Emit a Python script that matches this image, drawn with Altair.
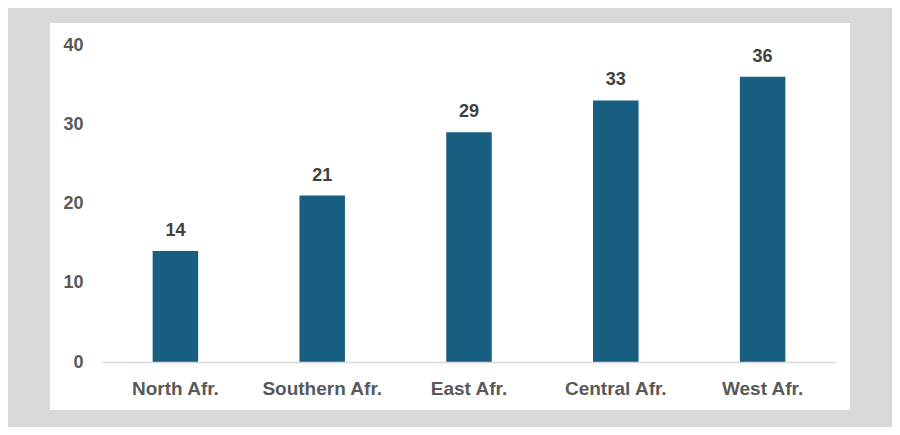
import altair as alt
import pandas as pd

regions = ["North Afr.", "Southern Afr.", "East Afr.", "Central Afr.", "West Afr."]
values = [14, 21, 29, 33, 36]
y_ticks = [0, 10, 20, 30, 40]

df = pd.DataFrame({"region": regions, "value": values})

FONT = "Liberation Sans"

x_enc = alt.X("region:N", sort=regions, title=None,
              scale=alt.Scale(paddingInner=0.69, paddingOuter=0.345),
              axis=alt.Axis(labelAngle=0, ticks=False, tickSize=0, domainColor="#d9d9d9",
                            domainWidth=1.5, labelBaseline="alphabetic", labelPadding=32,
                            labelFont=FONT, labelFontSize=19, labelFontWeight="bold",
                            labelColor="#595959", grid=False, zindex=1))
y_enc = alt.Y("value:Q", title=None,
              scale=alt.Scale(domain=[0, 40], nice=False),
              axis=alt.Axis(values=y_ticks, ticks=False, tickSize=0, domain=False, grid=False,
                            labelPadding=19, labelFont=FONT, labelFontSize=18,
                            labelFontWeight="bold", labelColor="#595959", zindex=1))

panel = alt.Chart(alt.Data(values=[{}])).mark_rect(color="white").encode(
    x=alt.value(-52), x2=alt.value(748), y=alt.value(-22), y2=alt.value(365)
)

bars = alt.Chart(df).mark_bar(color="#175e80").encode(x=x_enc, y=y_enc)

labels = alt.Chart(df).mark_text(
    baseline="alphabetic", dy=-15, font=FONT, fontSize=18, fontWeight="bold", color="#404040"
).encode(x=alt.X("region:N", sort=regions), y="value:Q", text="value:Q")

chart = alt.layer(panel, bars, labels).properties(
    width=734, height=317,
    autosize=alt.AutoSizeParams(type="none"),
    padding={"left": 94, "top": 37, "right": 56, "bottom": 65},
    background="#d9d9d9",
).configure_view(stroke="transparent")

chart.save("out.html", embed_options={"renderer": "svg", "actions": False})
